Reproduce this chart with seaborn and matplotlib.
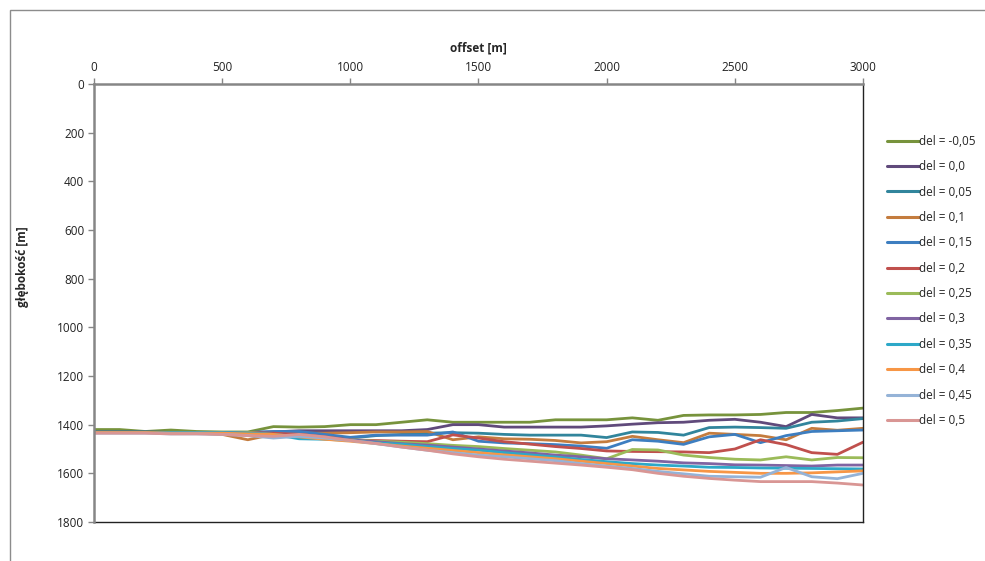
import numpy as np
import pandas as pd
import matplotlib
matplotlib.use("Agg")
import matplotlib.pyplot as plt
from matplotlib.patches import Rectangle
import seaborn as sns

# offset positions [m]
offsets = list(range(0, 3001, 100))

series_labels = ["del = -0,05", "del = 0,0", "del = 0,05", "del = 0,1", "del = 0,15", "del = 0,2",
                 "del = 0,25", "del = 0,3", "del = 0,35", "del = 0,4", "del = 0,45", "del = 0,5"]

# depth [m] of each reflector for the successive offsets
del_m005 = [1420, 1420, 1428, 1422, 1428, 1430, 1430, 1408, 1410, 1408, 1400, 1400, 1390, 1380, 1390, 1390,
            1390, 1390, 1380, 1380, 1380, 1372, 1382, 1362, 1360, 1360, 1358, 1350, 1350, 1342, 1332]
del_000 = [1430, 1430, 1430, 1432, 1432, 1432, 1432, 1430, 1425, 1425, 1425, 1425, 1425, 1420, 1400, 1400,
           1410, 1410, 1410, 1410, 1405, 1398, 1392, 1390, 1382, 1378, 1390, 1408, 1358, 1372, 1372]
del_005 = [1430, 1430, 1430, 1432, 1432, 1432, 1432, 1440, 1445, 1450, 1455, 1445, 1440, 1435, 1433, 1435,
           1440, 1443, 1443, 1443, 1453, 1430, 1432, 1443, 1412, 1410, 1412, 1415, 1390, 1385, 1375]
del_010 = [1432, 1432, 1432, 1435, 1435, 1440, 1462, 1440, 1435, 1435, 1433, 1430, 1430, 1428, 1462, 1450,
           1458, 1460, 1465, 1475, 1470, 1448, 1462, 1474, 1435, 1440, 1445, 1462, 1415, 1423, 1415]
del_015 = [1432, 1432, 1432, 1432, 1432, 1432, 1432, 1428, 1428, 1440, 1452, 1443, 1443, 1443, 1430, 1468,
           1475, 1478, 1482, 1488, 1497, 1462, 1468, 1481, 1450, 1440, 1474, 1445, 1428, 1425, 1422]
del_020 = [1432, 1432, 1432, 1432, 1432, 1432, 1432, 1435, 1440, 1450, 1463, 1465, 1468, 1470, 1442, 1455,
           1470, 1480, 1490, 1498, 1508, 1510, 1511, 1512, 1515, 1500, 1462, 1482, 1515, 1522, 1472]
del_025 = [1432, 1432, 1432, 1432, 1432, 1432, 1432, 1440, 1450, 1458, 1462, 1468, 1472, 1478, 1485, 1490,
           1498, 1505, 1512, 1525, 1540, 1502, 1504, 1525, 1535, 1542, 1545, 1532, 1545, 1535, 1536]
del_030 = [1432, 1432, 1432, 1432, 1432, 1432, 1435, 1440, 1448, 1455, 1462, 1470, 1478, 1484, 1492, 1500,
           1508, 1516, 1525, 1532, 1540, 1545, 1550, 1557, 1560, 1565, 1566, 1568, 1570, 1566, 1566]
del_035 = [1432, 1432, 1432, 1432, 1432, 1432, 1435, 1440, 1458, 1460, 1465, 1475, 1480, 1490, 1498, 1505,
           1515, 1524, 1533, 1543, 1552, 1560, 1566, 1570, 1575, 1576, 1578, 1579, 1580, 1581, 1582]
del_040 = [1432, 1432, 1432, 1435, 1435, 1435, 1438, 1440, 1450, 1460, 1468, 1478, 1488, 1497, 1506, 1515,
           1524, 1532, 1540, 1550, 1560, 1570, 1580, 1586, 1592, 1596, 1600, 1600, 1598, 1594, 1590]
del_045 = [1435, 1435, 1435, 1438, 1438, 1440, 1445, 1455, 1448, 1455, 1465, 1478, 1492, 1505, 1515, 1525,
           1532, 1540, 1548, 1560, 1570, 1580, 1592, 1602, 1612, 1614, 1616, 1576, 1614, 1622, 1600]
del_050 = [1435, 1435, 1435, 1438, 1438, 1440, 1445, 1448, 1440, 1450, 1465, 1477, 1492, 1505, 1520, 1532,
           1542, 1550, 1558, 1566, 1575, 1585, 1600, 1612, 1621, 1628, 1634, 1634, 1634, 1640, 1648]

depths = [del_m005, del_000, del_005, del_010, del_015, del_020,
          del_025, del_030, del_035, del_040, del_045, del_050]

colors = ["#77933C", "#604A7B", "#31859C", "#C47C3E", "#3D7EC0", "#C0504D",
          "#9BBB59", "#8064A2", "#2DA8C8", "#F79646", "#95B3D7", "#D99694"]

x_ticks = [0, 500, 1000, 1500, 2000, 2500, 3000]
y_ticks = [0, 200, 400, 600, 800, 1000, 1200, 1400, 1600, 1800]

df = pd.DataFrame({
    "offset": np.tile(offsets, len(series_labels)),
    "depth": np.concatenate(depths),
    "series": np.repeat(series_labels, len(offsets)),
})

sns.set_style("white")
plt.rcParams["font.family"] = ["Open Sans", "DejaVu Sans"]

fig = plt.figure(figsize=(9.85, 5.61), dpi=100)
ax = fig.add_axes([94 / 985, 1 - 522 / 561, (863 - 94) / 985, (522 - 84) / 561])

sns.lineplot(data=df, x="offset", y="depth", hue="series", hue_order=series_labels,
             palette=colors, estimator=None, sort=False, linewidth=2.0, ax=ax)

ax.set_xlim(0, 3000)
ax.set_ylim(1800, 0)
ax.set_xticks(x_ticks)
ax.set_yticks(y_ticks)
ax.xaxis.tick_top()
ax.xaxis.set_label_position("top")
ax.tick_params(axis="both", labelsize=8.5, length=4, width=1, color="#868686",
               direction="out", pad=3, labelcolor="#222222")
ax.tick_params(axis="x", top=True, bottom=False)
ax.tick_params(axis="y", left=True)
ax.set_xlabel("offset [m]", fontsize=8.5, fontweight="bold", labelpad=7)
ax.set_ylabel("głębokość [m]", fontsize=8.5, fontweight="bold")
ax.yaxis.set_label_coords(-0.085, 0.584)

for side in ["top", "left"]:
    ax.spines[side].set_color("#868686")
    ax.spines[side].set_linewidth(1.8)
for side in ["bottom", "right"]:
    ax.spines[side].set_color("#222222")
    ax.spines[side].set_linewidth(1.0)
ax.spines["top"].set_zorder(3)
ax.spines["left"].set_zorder(3)

leg = ax.legend(loc="upper left", bbox_to_anchor=(1.025, 0.895), frameon=False,
                fontsize=8.5, handlelength=2.7, handletextpad=0.05,
                labelspacing=1.05, borderaxespad=0)
for line in leg.get_lines():
    line.set_linewidth(2.2)

# outer chart frame
fig.patches.append(Rectangle((10 / 985, -0.05), 1.1, 1 - 10 / 561 + 0.05,
                             transform=fig.transFigure, fill=False,
                             edgecolor="#8c8c8c", linewidth=1.0))

fig.savefig("out.png", dpi=100)
